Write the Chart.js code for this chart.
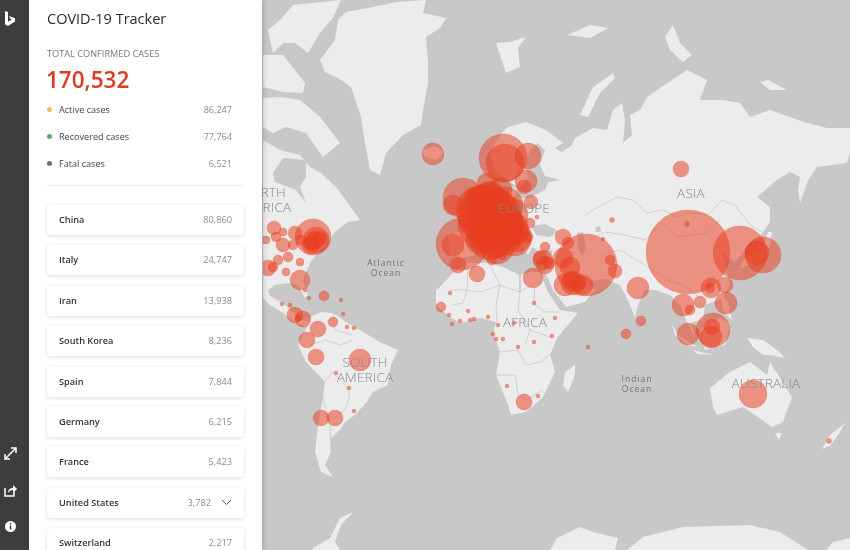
<!DOCTYPE html>
<html>
<head>
<meta charset="utf-8">
<title>COVID-19 Tracker</title>
<script src="https://cdn.jsdelivr.net/npm/chart.js@4/dist/chart.umd.min.js"></script>
<style>
html, body { margin: 0; padding: 0; width: 850px; height: 550px; overflow: hidden; background: #c8c8c8; font-family: "Open Sans", "Noto Sans", sans-serif; }
#rail { position: absolute; left: 0; top: 0; width: 29px; height: 550px; background: #3d3d3d; z-index: 5; }
#rail svg { position: absolute; left: 3px; width: 15px; height: 15px; margin-left: 0; }
#panel { position: absolute; left: 29px; top: 0; width: 233px; height: 550px; background: #fff; z-index: 4; box-shadow: 0 0 6px rgba(0,0,0,.3); overflow: hidden; }
#panel div { position: absolute; white-space: nowrap; }
.title { left: 18px; top: 9px; font-size: 14.5px; font-weight: 500; color: #2b2b2b; }
.sub { left: 18px; top: 47px; font-size: 9.2px; color: #777; }
.total { left: 17px; top: 64px; font-size: 22.5px; font-weight: 600; color: #e03a22; }
.dot { left: 18px; width: 5px; height: 5px; border-radius: 50%; }
.statname { left: 30px; font-size: 9.1px; color: #444; }
.statval { right: 30px; font-size: 9.1px; color: #8a8a8a; }
.rule { left: 18px; top: 185px; width: 197px; height: 1px; background: #ececec; }
.card { left: 18px; width: 197px; height: 30px; background: #fff; border-radius: 4px; box-shadow: 0 1px 4px rgba(0,0,0,.14); }
.card .cname { left: 12px; top: 8px; font-size: 9.2px; font-weight: 600; color: #333; }
.card .cval { right: 12px; top: 8px; font-size: 9.2px; color: #8a8a8a; }
#map { position: absolute; left: 263px; top: 0; width: 587px; height: 550px; }
.label { position: absolute; z-index: 2; color: #85888e; font-size: 13.5px; font-weight: 300; letter-spacing: .2px; text-align: center; transform: translateX(-50%); white-space: nowrap; line-height: 15px; }
.ocean { font-size: 8.5px; font-weight: 400; letter-spacing: 1px; line-height: 10px; color: #70737a; }
</style>
</head>
<body>
<div id="rail">
  <svg style="top:10px;left:1px;width:18px;height:18px" viewBox="0 0 18 18"><path d="M4 1l3 1v9.500l4-2-2-1-1-2.600 6 2.400v3.300L7 16l-3-1.800z" fill="#fff"/></svg>
  <svg style="top:446px" viewBox="0 0 15 15"><path d="M2 13l11-11M8 2h5v5M2 8v5h5" fill="none" stroke="#fff" stroke-width="1.500"/></svg>
  <svg style="top:483px" viewBox="0 0 15 15"><path d="M2 5v8h9V9" fill="none" stroke="#fff" stroke-width="1.500"/><path d="M5 10c0-4 3-5 5-5V2l4 4-4 4V7c-2 0-4 1-5 3z" fill="#fff"/></svg>
  <svg style="top:519px" viewBox="0 0 15 15"><circle cx="7.500" cy="7.500" r="5.500" fill="#fff"/><path d="M7.500 6.500v4M7.500 4v1.500" stroke="#3d3d3d" stroke-width="1.500"/></svg>
</div>
<div id="panel"></div>
<div id="map"><canvas id="MapChart" width="587" height="550"></canvas></div>
<div class="label" style="left:263px;top:185px">NORTH<br>AMERICA</div>
<div class="label" style="left:524px;top:201px">EUROPE</div>
<div class="label" style="left:691px;top:186px">ASIA</div>
<div class="label" style="left:525px;top:315px">AFRICA</div>
<div class="label" style="left:365px;top:355px">SOUTH<br>AMERICA</div>
<div class="label" style="left:766px;top:376px">AUSTRALIA</div>
<div class="label ocean" style="left:386px;top:258px">Atlantic<br>Ocean</div>
<div class="label ocean" style="left:637px;top:374px">Indian<br>Ocean</div>

<script>
// sidebar figures
const statNames = ['Active cases', 'Recovered cases', 'Fatal cases'];
const statValues = ['86,247', '77,764', '6,521'];
const statColors = ['#f0bd63', '#4fb06d', '#6f6f6f'];
const countries = ['China', 'Italy', 'Iran', 'South Korea', 'Spain', 'Germany', 'France', 'United States', 'Switzerland'];
const countryCases = ['80,860', '24,747', '13,938', '8,236', '7,844', '6,215', '5,423', '3,782', '2,217'];

// land outlines, in map units
const greenland = [[320,60],[335,40],[338,20],[346,12],[373,7],[396,2],[426,0],[423,13],[446,18],[440,28],[426,37],[428,63],[428,83],[423,110],[421,125],[403,135],[386,153],[380,175],[370,170],[365,143],[361,117],[351,87],[338,78],[325,72]];
const ellesmere = [[268,30],[280,20],[293,5],[341,0],[333,18],[320,33],[308,53],[295,43],[283,43],[273,53]];
const arcticIsles = [[263,55],[283,55],[305,83],[303,93],[283,92],[263,87]];
const baffin = [[263,98],[280,97],[300,100],[320,117],[340,143],[323,157],[306,133],[286,127],[273,133],[263,127]];
const northAmerica = [[263,140],[280,150],[300,155],[310,167],[321,173],[336,187],[348,203],[360,220],[348,222],[335,232],[330,240],[320,250],[312,260],[306,272],[303,280],[308,295],[305,298],[298,285],[288,283],[275,285],[268,290],[270,296],[283,303],[290,310],[300,320],[310,322],[305,326],[295,322],[283,313],[270,305],[263,298]];
const southAmerica = [[310,317],[321,312],[333,313],[346,322],[363,332],[380,342],[398,350],[391,365],[388,385],[373,392],[366,403],[355,415],[345,422],[340,430],[331,438],[331,452],[325,465],[333,477],[321,472],[315,452],[318,425],[323,398],[325,382],[306,362],[298,345],[308,325]];
const africa = [[437,290],[453,273],[467,263],[490,263],[505,268],[520,275],[530,272],[540,272],[548,292],[560,310],[578,313],[568,325],[557,338],[550,355],[555,372],[543,397],[526,412],[511,415],[508,405],[496,375],[500,352],[493,333],[496,322],[480,318],[460,323],[450,317],[436,305],[436,288]];
const eurasia = [[448,236],[462,231],[474,232],[478,222],[484,212],[494,208],[503,203],[510,190],[516,187],[515,197],[528,198],[545,190],[548,182],[560,180],[545,176],[540,165],[545,150],[537,143],[530,150],[525,165],[528,178],[520,188],[510,182],[495,170],[490,155],[497,140],[506,128],[526,122],[546,130],[563,143],[555,148],[562,152],[572,145],[575,138],[593,128],[607,130],[613,110],[622,103],[625,120],[623,143],[632,135],[630,115],[640,110],[647,97],[660,88],[687,70],[707,80],[700,100],[723,100],[740,103],[750,117],[770,110],[807,123],[827,128],[850,128],[850,152],[847,163],[817,167],[808,180],[800,203],[798,190],[800,177],[790,172],[777,180],[757,197],[770,207],[770,222],[760,236],[748,245],[741,255],[735,262],[728,258],[722,250],[726,268],[730,285],[722,298],[705,305],[703,320],[692,322],[695,338],[685,318],[680,305],[670,295],[655,290],[645,290],[638,305],[635,318],[628,300],[620,285],[605,279],[590,281],[578,272],[595,290],[585,302],[566,307],[553,290],[545,272],[553,250],[540,252],[532,247],[528,255],[522,245],[510,228],[505,232],[513,245],[522,258],[515,250],[500,235],[490,232],[478,238],[475,255],[462,258],[450,255]];
const australia = [[710,388],[730,372],[750,362],[758,368],[767,375],[770,362],[780,378],[792,397],[783,422],[772,427],[758,417],[743,407],[717,415],[713,407]];
const tasmania = [[775,433],[782,433],[779,440]];
const newZealand = [[822,449],[830,435],[845,423],[840,432],[830,446]];
const newGuinea = [[747,338],[763,340],[777,350],[785,358],[770,355],[763,355],[753,347]];
const borneo = [[700,330],[720,318],[730,325],[725,345],[705,350]];
const sumatra = [[672,325],[678,335],[697,347],[688,345],[675,335]];
const java = [[693,350],[713,355],[697,354]];
const philippines = [[720,295],[727,300],[732,320],[724,312]];
const madagascar = [[563,385],[565,372],[575,365],[575,375],[568,392]];
const britain = [[470,195],[480,205],[482,215],[470,220],[465,205]];
const iceland = [[422,150],[435,146],[445,152],[436,160],[425,157]];
const japan = [[740,268],[760,262],[770,245],[772,232],[768,232],[762,250],[745,258]];
const svalbard = [[496,43],[510,42],[526,37],[518,48],[520,67],[506,73]];
const novayaZemlya = [[580,115],[593,87],[613,73],[615,78],[600,93],[588,117]];
const severnaya = [[665,37],[673,25],[680,43],[692,55],[683,62],[670,50]];
const franzJosef = [[567,35],[590,25],[608,28],[590,38]];
const newSiberia = [[760,82],[768,80],[787,90],[770,90]];
const antarcticaEast = [[550,550],[557,538],[580,527],[593,532],[618,538],[615,550]];
const antarcticaMain = [[627,550],[643,537],[683,527],[750,525],[780,532],[808,550]];
const antarcticaPen = [[313,548],[330,538],[340,518],[353,512],[341,525],[335,542],[340,550],[313,550]];
const antarcticaRight = [[826,550],[833,542],[850,538],[850,550]];
const landShapes = [greenland, ellesmere, arcticIsles, baffin, northAmerica, southAmerica, africa, eurasia, australia, tasmania, newZealand, newGuinea, borneo, sumatra, java, philippines, madagascar, britain, iceland, japan, svalbard, novayaZemlya, severnaya, franzJosef, newSiberia, antarcticaEast, antarcticaMain, antarcticaPen, antarcticaRight];

// inland water
const hudsonBay = [[273,173],[283,158],[306,160],[306,177],[300,187],[306,203],[296,190],[283,185],[275,182]];
const blackSea = [[532,226],[545,224],[558,231],[550,237],[536,235]];
const caspian = [[577,233],[583,232],[586,250],[582,256],[578,248]];
const aralSea = [[595,227],[600,226],[601,232],[596,232]];
const baltic = [[521,198],[533,196],[538,188],[530,186],[523,192]];
const waterShapes = [hudsonBay, blackSea, caspian, aralSea, baltic];

// country borders
const borderLines = [
  [[598,207],[617,197],[633,200],[647,213],[663,210],[677,217],[690,213],[708,215],[722,200],[735,205],[750,225],[762,232]],
  [[662,223],[677,237],[707,233],[720,220]],
  [[585,215],[598,207]],
  [[590,240],[605,232],[625,235],[645,240],[662,223]],
  [[600,255],[620,250],[640,262],[668,280],[685,286],[700,298]],
  [[450,290],[465,290],[480,292],[500,285],[520,292],[534,283]],
  [[468,265],[467,290],[463,303],[452,305]],
  [[490,265],[500,285],[496,305],[497,322]],
  [[520,275],[520,292],[518,310],[530,330],[525,345]],
  [[534,283],[535,305],[545,312],[560,312]],
  [[500,352],[518,350],[526,365],[540,362],[550,355]],
  [[496,375],[515,375],[518,395],[526,400],[543,390]],
  [[530,330],[552,338]],
  [[310,345],[325,340],[340,345],[352,340]],
  [[325,382],[332,372],[345,385],[350,395],[345,410],[335,418]],
  [[323,398],[330,425],[331,452]],
  [[333,313],[335,330],[352,335]]
];

// bubbles: x, y, radius
const bubbleX = [688,740,763,757,687,612,603,681,586,638,641,626,588,683,690,700,711,710,725,726,713,712,711,688,753,829,555,552,
  563,568,610,615,573,583,565,563,570,533,543,545,540,549,477,545,
  503,505,528,526,524,531,537,463,453,462,453,458,488,495,480,500,510,490,515,517,497,487,500,502,492,530,527,433,
  313,316,311,320,274,266,276,283,295,283,293,301,278,268,273,288,300,300,286,305,309,324,341,282,290,295,303,298,318,333,343,347,354,307,316,360,336,349,354,321,335,
  450,441,449,452,460,468,470,474,488,498,514,534,493,496,503,518,534,507,524,538,
  487,495,482,505,500,478,490,510,515,495,480,578,572,315,312];
const bubbleY = [252,253,255,253,224,220,239,169,265,288,321,334,347,305,310,302,288,288,285,303,330,327,337,334,394,441,318,336,
  237,243,260,271,283,285,285,258,267,278,260,265,258,263,274,247,
  158,163,156,181,187,202,217,198,205,244,245,265,215,225,210,235,215,240,240,237,247,183,190,255,260,223,237,154,
  237,240,245,238,228,240,237,232,233,245,245,240,260,268,267,257,262,280,272,290,298,296,300,304,305,315,319,318,329,322,314,327,328,340,357,360,373,388,411,418,418,
  293,307,315,324,321,311,320,319,317,325,323,303,334,339,339,347,342,386,402,396,
  205,215,225,205,225,200,195,228,232,240,240,283,280,240,243];
const bubbleR = [42,27,18,12,2.5,2.5,2,8,31,11,5,5,2,11,5,6,10,5,8,11,17,8,11,11,14,2.5,2,2,
  8,6,5,7,12,10,11,10,10,10,10,9,7,6,8,5,
  24,19,13,11,7,7,2,20,10,26,11,8,30,28,24,22,18,20,16,15,17,10,12,5,5,5,6,11,
  18,13,9,7,7,4,5,4,7,7,5,5,5,8,5,5,4,10,4,2,2,5,2,2,2,8,8,3,8,5,2,2,2,8,8,11,2,2,2,8,8,
  2,5,2,2,2,2,2,2,2,2,2,2,2,2,2,2,2,2,8,2,
  22,26,24,18,24,14,14,18,14,18,14,8,8,9,7];

function toPoints(list) {
    return list.map(function (p) { return { x: p[0], y: p[1] }; });
}

function shapeSet(list, color, order) {
    return {
        type: 'scatter',
        data: toPoints(list),
        showLine: true,
        fill: 'shape',
        tension: 0,
        borderWidth: 0,
        borderColor: color,
        backgroundColor: color,
        pointRadius: 0,
        order: order
    };
}

// build the sidebar
const panel = document.getElementById('panel');
let html = '<div class="title">COVID-19 Tracker</div><div class="sub">TOTAL CONFIRMED CASES</div><div class="total">170,532</div>';
statNames.forEach(function (name, i) {
    const top = 109 + i * 27;
    html += '<div class="dot" style="top:' + (top - 2.500) + 'px;background:' + statColors[i] + '"></div>';
    html += '<div class="statname" style="top:' + (top - 6) + 'px">' + name + '</div>';
    html += '<div class="statval" style="top:' + (top - 6) + 'px">' + statValues[i] + '</div>';
});
html += '<div class="rule"></div>';
countries.forEach(function (name, i) {
    const top = 205 + i * 40.4;
    const usRow = name === 'United States';
    html += '<div class="card" style="top:' + top + 'px"><div class="cname">' + name + '</div>';
    html += '<div class="cval"' + (usRow ? ' style="right:33px"' : '') + '>' + countryCases[i] + '</div>';
    if (usRow) {
        html += '<svg style="position:absolute;left:174px;top:11px" width="11" height="7" viewBox="0 0 11 7"><path d="M1 1l4.500 4.500L10 1" fill="none" stroke="#555" stroke-width="1"/></svg>';
    }
    html += '</div>';
});
panel.innerHTML = html;

// land, water, borders, then bubbles on top
const datasets = [];
datasets.push({
    type: 'bubble',
    data: bubbleX.map(function (x, i) { return { x: x, y: bubbleY[i], r: bubbleR[i] }; }),
    backgroundColor: 'rgba(232, 62, 30, 0.52)',
    borderColor: 'rgba(232, 62, 30, 0.22)',
    borderWidth: 1,
    order: 0
});
borderLines.forEach(function (line) {
    datasets.push({
        type: 'scatter',
        data: toPoints(line),
        showLine: true,
        tension: 0,
        borderWidth: 0.7,
        borderColor: '#c4c4c4',
        pointRadius: 0,
        order: 1
    });
});
waterShapes.forEach(function (shape) { datasets.push(shapeSet(shape, '#c8c8c8', 2)); });
landShapes.forEach(function (shape) { datasets.push(shapeSet(shape, '#ececec', 3)); });

const ctx = document.getElementById('MapChart').getContext('2d');
new Chart(ctx, {
    type: 'bubble',
    data: { datasets: datasets },
    options: {
        responsive: false,
        animation: false,
        layout: { padding: 0, autoPadding: false },
        plugins: {
            legend: { display: false },
            tooltip: { enabled: false },
            title: { display: false }
        },
        scales: {
            x: { type: 'linear', min: 263, max: 850, display: false },
            y: { type: 'linear', min: 0, max: 550, reverse: true, display: false }
        }
    }
});
</script>
</body>
</html>
